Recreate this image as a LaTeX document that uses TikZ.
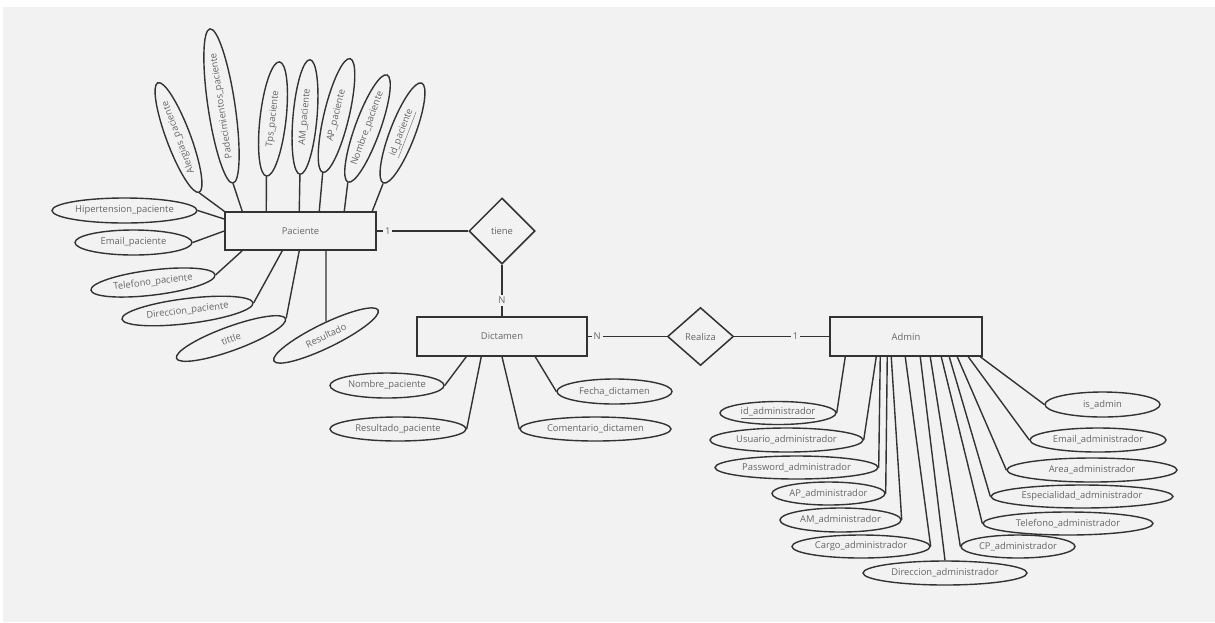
\documentclass[tikz,border=0pt]{standalone}
\usepackage{fontspec}
\setmainfont{Open Sans}
\usetikzlibrary{shapes.geometric}

\definecolor{bgcol}{HTML}{F2F2F2}
\definecolor{linecol}{HTML}{333333}
\definecolor{txtcol}{HTML}{666666}

\begin{document}
\begin{tikzpicture}[x=1pt, y=-1pt,
    every node/.style={font=\fontsize{9.4}{11}\selectfont, text=txtcol},
    entity/.style={draw=linecol, line width=1.5pt, rectangle, minimum width=151pt, minimum height=39pt, inner sep=0pt},
    relation/.style={draw=linecol, line width=1.5pt, diamond, inner sep=0pt},
    attr/.style={draw=linecol, line width=1.4pt, ellipse, inner sep=0pt, minimum height=24pt},
    card/.style={fill=bgcol, inner sep=2pt},
    link/.style={draw=linecol, line width=1.4pt}]
    \useasboundingbox (0,0) rectangle (1215,622);
    \fill[white] (0,0) rectangle (1215,622);
    \fill[bgcol] (3,7) rectangle (1215,622);

    % entidades y relaciones
    \node[entity, minimum height=38pt] (pac) at (300.5,231) {Paciente};
    \node[entity, minimum width=170pt] (dic) at (502,336.5) {Dictamen};
    \node[entity, minimum width=152pt] (adm) at (906,336.5) {Admin};
    \node[relation, minimum width=66pt, minimum height=66pt] (tiene) at (502,231) {tiene};
    \node[relation, minimum width=66pt, minimum height=58pt] (realiza) at (700.5,336.5) {Realiza};

    \draw[link] (pac) -- node[card, pos=0.12] {1} (tiene);
    \draw[link] (tiene) -- node[card, pos=0.69] {N} (dic);
    \draw[link] (dic) -- node[card, pos=0.12] {N} (realiza);
    \draw[link] (realiza) -- node[card, pos=0.645] {1} (adm);

    % atributos de Paciente
    \node[attr, rotate=110.6, minimum width=117pt] (alergias) at (178.5,137.5) {Alergias\_paciente};
    \node[attr, rotate=98.5, minimum width=156pt, minimum height=27pt] (padec) at (221.5,106) {Padecimientos\_paciente};
    \node[attr, rotate=83.5, minimum width=115pt, minimum height=26pt] (tps) at (273,119) {Tps\_paciente};
    \node[attr, rotate=85, minimum width=115pt] (amp) at (305,117) {AM\_paciente};
    \node[attr, rotate=76.5, minimum width=117pt, minimum height=25pt] (app) at (336.5,115.5) {AP\_paciente};
    \node[attr, rotate=70, minimum width=114pt, minimum height=25pt] (nomp) at (367.5,128.5) {Nombre\_paciente};
    \node[attr, rotate=69, minimum width=107pt, minimum height=25pt] (idp) at (402.5,133) {\underline{id\_paciente}};
    \node[attr, minimum width=145pt, minimum height=25pt] (hiper) at (124.5,210.5) {Hipertension\_paciente};
    \node[attr, minimum width=117pt, minimum height=25pt] (emailp) at (133.5,242.5) {Email\_paciente};
    \node[attr, rotate=7, minimum width=125pt, minimum height=25pt] (telp) at (153,282.5) {Telefono\_paciente};
    \node[attr, rotate=7, minimum width=132pt, minimum height=25pt] (dirp) at (187.5,311) {Direccion\_paciente};
    \node[attr, rotate=20, minimum width=116pt] (tittle) at (231,338.5) {tittle};
    \node[attr, rotate=26, minimum width=116pt] (resul) at (326,335.5) {Resultado};

    \draw[link] (alergias.west) -- (pac.north west);
    \foreach \a/\d in {padec/18, tps/42, amp/75, app/95, nomp/120, idp/148}
        \draw[link] (\a.west) -- ([xshift=\d pt]pac.north west);
    \draw[link] (hiper.east) -- ([yshift=12pt]pac.west);
    \draw[link] (emailp.east) -- (pac.west);
    \foreach \a/\d in {telp/18, dirp/58, tittle/75}
        \draw[link] (\a.east) -- ([xshift=\d pt]pac.south west);
    \draw[link] (resul) -- (resul |- pac.south);

    % atributos de Dictamen
    \node[attr, minimum width=114pt, minimum height=25pt] (nomd) at (387,385.5) {Nombre\_paciente};
    \node[attr, minimum width=136pt] (resd) at (398,429) {Resultado\_paciente};
    \node[attr, minimum width=151pt] (comd) at (595.5,429) {Comentario\_dictamen};
    \node[attr, minimum width=115pt, minimum height=25pt] (fechd) at (614.5,391.5) {Fecha\_dictamen};

    \draw[link] (nomd.east) -- ([xshift=50pt]dic.south west);
    \draw[link] (resd.east) -- ([xshift=65pt]dic.south west);
    \draw[link] (comd.west) -- (dic.south);
    \draw[link] (fechd.west) -- ([xshift=119pt]dic.south west);

    % atributos de Admin
    \node[attr, minimum width=116pt, minimum height=23pt] (idadm) at (778,413) {\underline{id\_administrador}};
    \node[attr, minimum width=153pt] (usuadm) at (786.5,440) {Usuario\_administrador};
    \node[attr, minimum width=163pt, minimum height=23pt] (passadm) at (796.5,467.5) {Password\_administrador};
    \node[attr, minimum width=113pt, minimum height=23pt] (apadm) at (828.5,493.5) {AP\_administrador};
    \node[attr, minimum width=121pt] (amadm) at (840.5,520) {AM\_administrador};
    \node[attr, minimum width=138pt, minimum height=23pt] (cargadm) at (861,546.5) {Cargo\_administrador};
    \node[attr, minimum width=164pt] (diradm) at (945,573) {Direccion\_administrador};
    \node[attr, minimum width=114pt, minimum height=23pt] (cpadm) at (1018,546.5) {CP\_administrador};
    \node[attr, minimum width=170pt, minimum height=23pt] (teladm) at (1068,523.5) {Telefono\_administrador};
    \node[attr, minimum width=182pt, minimum height=23pt] (espadm) at (1082,496.5) {Especialidad\_administrador};
    \node[attr, minimum width=170pt] (areadm) at (1092,470) {Area\_administrador};
    \node[attr, minimum width=136pt] (emadm) at (1098,440) {Email\_administrador};
    \node[attr, minimum width=115pt, minimum height=25pt] (isadm) at (1102.5,404.5) {is\_admin};

    \foreach \a/\s/\d in {idadm/east/16, usuadm/east/47, passadm/east/51, apadm/east/58,
        amadm/east/62, cargadm/east/76, diradm/north/91, cpadm/west/101, teladm/west/112,
        espadm/west/120, areadm/west/128, emadm/west/139, isadm/west/151}
        \draw[link] (\a.\s) -- ([xshift=\d pt]adm.south west);
\end{tikzpicture}
\end{document}
